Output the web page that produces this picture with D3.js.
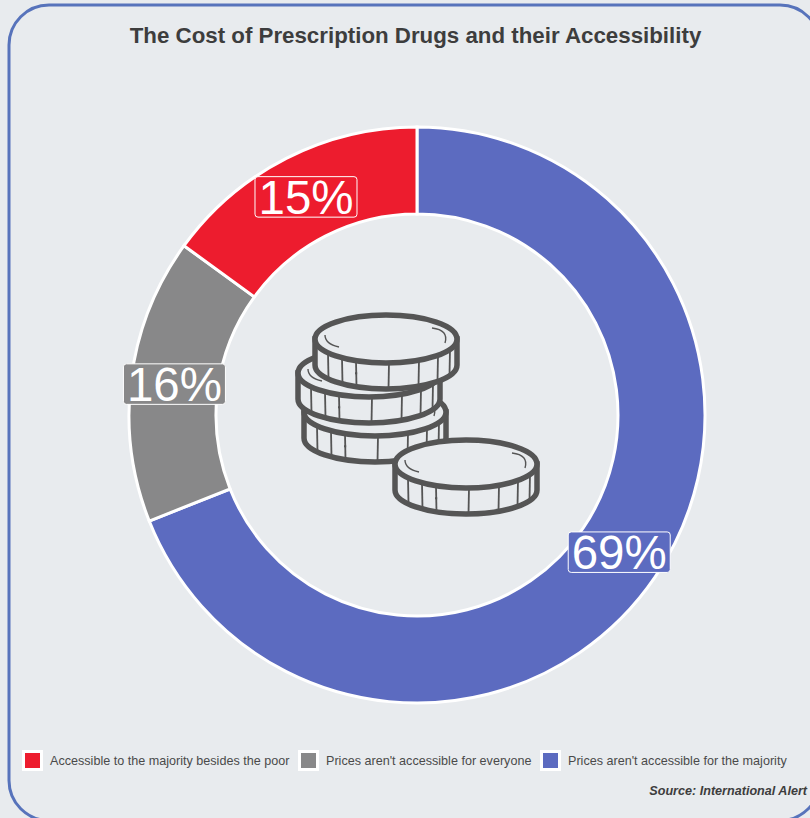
<!DOCTYPE html>
<html><head><meta charset="utf-8">
<script src="https://cdn.jsdelivr.net/npm/d3@7"></script>
<style>html,body{margin:0;padding:0;background:#e8ebee;overflow:hidden}svg{display:block}text{font-family:"Liberation Sans",Arial,sans-serif}</style>
</head><body><div id="chart"></div>
<script>
const categories = ["Prices aren't accessible for the majority","Prices aren't accessible for everyone","Accessible to the majority besides the poor"];
const values = [69,16,15];
const colors = ["#5c6bc0","#888889","#ed1c2e"];
const legendOrder = [2,1,0];
const legendX = [22,298,540];
const titleText = "The Cost of Prescription Drugs and their Accessibility";
const sourceText = "Source: International Alert";
const W=810,H=818,cx=417,cy=415,R=288,r=201,bg="#e8ebee";
const svg=d3.select("#chart").append("svg").attr("width",W).attr("height",H);
svg.append("rect").attr("width",W).attr("height",H).attr("fill",bg);
svg.append("rect").attr("x",9).attr("y",5).attr("width",811).attr("height",815.5).attr("rx",40).attr("ry",40)
 .attr("fill","none").attr("stroke","#5773bb").attr("stroke-width",3);
svg.append("text").attr("x",415.5).attr("y",43).attr("text-anchor","middle").attr("font-size",22.3).attr("font-weight",700).attr("fill","#3d3d3d").text(titleText);
const pie=d3.pie().sort(null).value(d=>d)(values);
const arc=d3.arc().innerRadius(r).outerRadius(R);
const g=svg.append("g").attr("transform",`translate(${cx},${cy})`);
g.selectAll("path").data(pie).join("path").attr("d",arc).attr("fill",(d,i)=>colors[i]).attr("stroke","#fff").attr("stroke-width",3);

// coin icon
function coin(x,y){
 const rx=71,ry=24,dep=26,c=svg.append("g").attr("transform",`translate(${x},${y})`);
 const st="#555555";
 c.append("path").attr("d",`M${-rx},0 L${-rx},${dep} A${rx},${ry} 0 0 0 ${rx},${dep} L${rx},0 Z`).attr("fill",bg).attr("stroke",st).attr("stroke-width",5.5).attr("stroke-linejoin","miter");
 [-58,-44,-30,3,33,52,64].forEach(dx=>{
  const e=ry*Math.sqrt(1-dx*dx/(rx*rx));
  c.append("line").attr("x1",dx).attr("x2",dx+(dx>0?-0.5:0.5)).attr("y1",e).attr("y2",e+dep).attr("stroke",st).attr("stroke-width",1.8);
 });
 c.append("rect").attr("x",-31).attr("y",ry*0.9+dep*0.45).attr("width",2.2).attr("height",2).attr("fill",st);
 c.append("ellipse").attr("rx",rx).attr("ry",ry).attr("fill",bg).attr("stroke",st).attr("stroke-width",5.5);
 c.append("path").attr("d","M-61,-4 Q-61,5 -47,8").attr("fill","none").attr("stroke",st).attr("stroke-width",1.4);
 c.append("path").attr("d","M46,-11 Q63,-9 59,4").attr("fill","none").attr("stroke",st).attr("stroke-width",1.4);
}
coin(375,412);coin(369,373);coin(386,339);coin(466,464);

// labels
const labels=g.selectAll("g.lab").data(pie).join("g").attr("class","lab").attr("transform",d=>{
 const a=(d.startAngle+d.endAngle)/2,m=244.5;return `translate(${m*Math.sin(a)},${-m*Math.cos(a)})`;});
labels.append("rect").attr("x",-51).attr("y",-20.5).attr("width",102).attr("height",40.5).attr("rx",3).attr("fill",(d,i)=>colors[i]).attr("stroke","#fff").attr("stroke-width",1);
labels.append("text").attr("text-anchor","middle").attr("y",17).attr("font-size",47.5).attr("fill","#fff").text(d=>d.value+"%");

// legend
const leg=svg.selectAll("g.leg").data(legendOrder).join("g").attr("class","leg").attr("transform",(d,i)=>`translate(${legendX[i]},750)`);
leg.append("rect").attr("x",1.5).attr("y",1.5).attr("width",18).attr("height",18).attr("fill",d=>colors[d]).attr("stroke","#fff").attr("stroke-width",3);
leg.append("text").attr("x",28).attr("y",15).attr("font-size",12.6).attr("fill","#4a4a4a").text(d=>categories[d]);
svg.append("text").attr("x",807).attr("y",795).attr("text-anchor","end").attr("font-size",12.6).attr("font-weight",700).attr("font-style","italic").attr("fill","#3d3d3d").text(sourceText);
</script></body></html>
